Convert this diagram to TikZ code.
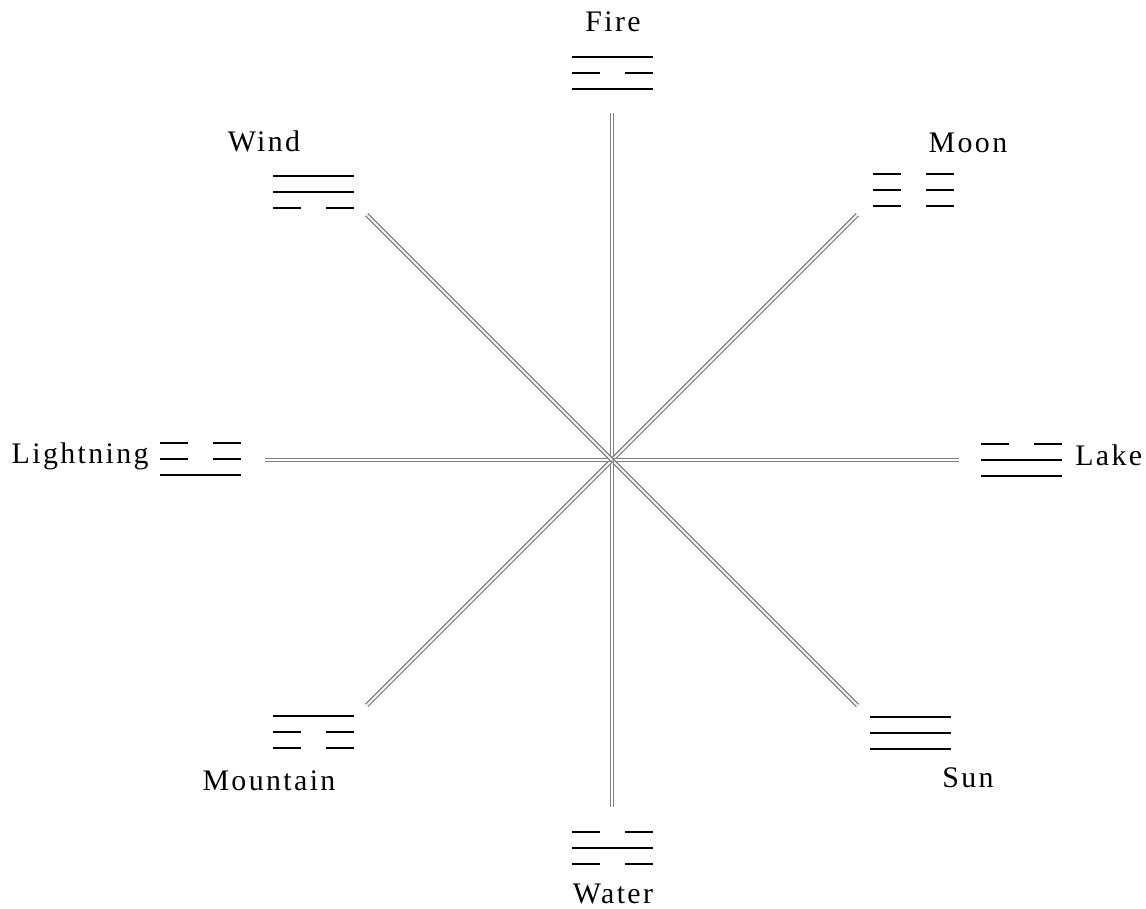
\documentclass[tikz,border=0pt]{standalone}
\usepackage{fontspec}
\setmainfont{Liberation Serif}[LetterSpace=8]
\usetikzlibrary{positioning,calc}

% one trigram: top-left corner #1,#2 ; lines #3 #4 #5 (1 = whole, 0 = broken)
\newcommand{\yaoline}[3]{%
  \ifnum#3=1
    \draw[yang] (#1,#2) -- ++(81,0);
  \else
    \draw[yang] (#1,#2) -- ++(28,0);
    \draw[yang] ($(#1,#2)+(53,0)$) -- ++(28,0);
  \fi}
\newcommand{\gua}[5]{%
  \yaoline{#1}{#2}{#3}
  \yaoline{#1}{#2+16}{#4}
  \yaoline{#1}{#2+32}{#5}}

\begin{document}
\begin{tikzpicture}[x=0.02cm,y=-0.02cm,
  spoke/.style={draw=black!50,double=white,double distance=1pt,line width=0.75pt},
  yang/.style={line width=0.85pt,black},
  lbl/.style={font=\fontsize{17}{20}\selectfont,inner sep=0}]

\useasboundingbox (0,0) rectangle (1146,909);

\coordinate (O) at (612,460);
\foreach \n/\a in {fire/-90, moon/-45, lake/0, sun/45, water/90,
                   mountain/135, lightning/180, wind/225}
  \coordinate (\n end) at ($(O)+(\a:347)$);

\foreach \n in {fire,moon,lake,sun,water,mountain,lightning,wind}
  \draw[spoke] (O) -- (\n end);

% trigrams
\gua{572}{57}{1}{0}{1}   % fire
\gua{273}{176}{1}{1}{0}  % wind
\gua{873}{174}{0}{0}{0}  % moon
\gua{160}{443}{0}{0}{1}  % lightning
\gua{981}{444}{0}{1}{1}  % lake
\gua{273}{716}{1}{0}{0}  % mountain
\gua{870}{717}{1}{1}{1}  % sun
\gua{572}{832}{0}{1}{0}  % water

% names
\node[lbl,anchor=base] (fire) at (613,32) {Fire};
\node[lbl,anchor=base] (wind) at (264,152) {Wind};
\node[lbl,anchor=base] (moon) at (968,153) {Moon};
\node[lbl,anchor=base east] (lightning) at (149,463) {Lightning};
\node[lbl,anchor=base west] (lake) at (1075,465) {Lake};
\node[lbl,anchor=base] (mountain) at (269,790) {Mountain};
\node[lbl,anchor=base] (sun) at (968,787) {Sun};
\node[lbl,anchor=base] (water) at (613,903) {Water};

\end{tikzpicture}
\end{document}
